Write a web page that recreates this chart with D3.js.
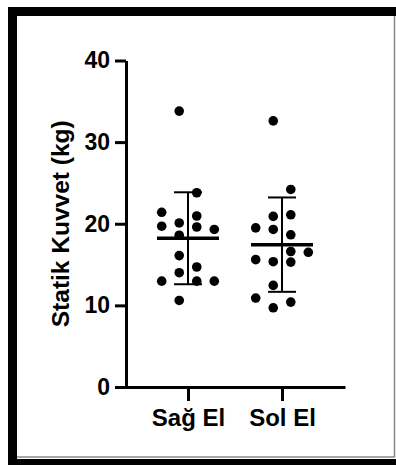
<!DOCTYPE html>
<html>
<head>
<meta charset="utf-8">
<script src="https://cdn.jsdelivr.net/npm/d3@7"></script>
<style>
  body { margin: 0; background: #fff; }
  text { font-family: Arial, "Liberation Sans", sans-serif; font-weight: bold; }
</style>
</head>
<body>
<div id="chart"></div>
<script>
const w = 396,
h = 465;

// data
const groups = ["Sağ El", "Sol El"];
const sagValues = [10.6, 12.97, 12.97, 12.97, 14.0, 14.7, 16.1, 18.6, 19.3, 19.6, 19.7, 20.1, 20.95, 21.4, 23.8, 33.8];
const sagCols   = [-0.5, -1.5, 0.5, 1.5, -0.5, 0.5, -0.5, -0.5, 1.5, 0.5, -1.5, -0.5, 0.5, -1.5, 0.5, -0.5];
const solValues = [9.7, 10.4, 10.9, 12.45, 15.3, 15.35, 15.6, 16.5, 16.6, 18.65, 19.3, 19.5, 20.9, 21.1, 24.2, 32.6];
const solCols   = [-0.5, 0.5, -1.5, -0.5, 0.5, -0.5, -1.5, 1.5, 0.5, 0.5, -0.5, -1.5, -0.5, 0.5, 0.5, -0.5];
const yTicks = [0, 10, 20, 30, 40];
const yLabel = "Statik Kuvvet (kg)";

const series = [
    {name: groups[0], values: sagValues, cols: sagCols},
    {name: groups[1], values: solValues, cols: solCols}
];

const svg = d3.select("#chart")
    .append("svg")
    .attr("width", w)
    .attr("height", h);

// screenshot frame
svg.append("rect").attr("x", 8).attr("y", 7).attr("width", w - 8).attr("height", 9).attr("fill", "#000");
svg.append("rect").attr("x", 8).attr("y", 7).attr("width", 9).attr("height", h - 7).attr("fill", "#000");
svg.append("rect").attr("x", 8).attr("y", 459).attr("width", w - 8).attr("height", 6).attr("fill", "#000");
svg.append("line").attr("x1", 17).attr("x2", 394.5).attr("y1", 457).attr("y2", 457)
    .attr("stroke", "#888").attr("stroke-width", 1.5);
svg.append("line").attr("x1", 394.5).attr("x2", 394.5).attr("y1", 16).attr("y2", 457)
    .attr("stroke", "#888").attr("stroke-width", 1.5);

const x = d3.scalePoint(groups, [125, 345]).padding(0.67);
const y = d3.scaleLinear([0, 40], [387, 60.5]);
const jitter = d3.scaleLinear([-1.5, 1.5], [-26.3, 26.3]);

// y axis
const gy = svg.append("g")
    .attr("transform", "translate(126,0)")
    .call(d3.axisLeft(y).tickValues(yTicks).tickSize(11).tickPadding(5).tickSizeOuter(0));
gy.select(".domain").attr("stroke-width", 3);
gy.selectAll(".tick line").attr("stroke-width", 3);
gy.selectAll(".tick text").style("font-size", "23px").attr("fill", "#000");

// x axis
const gx = svg.append("g")
    .attr("transform", "translate(0,387)")
    .call(d3.axisBottom(x).tickSize(14).tickPadding(8).tickSizeOuter(0));
gx.select(".domain").attr("stroke-width", 3);
gx.selectAll(".tick line").attr("stroke-width", 3);
gx.selectAll(".tick text").style("font-size", "24px").attr("fill", "#000");

svg.append("text")
    .attr("transform", `translate(69,${(y(0) + y(40)) / 2}) rotate(-90)`)
    .attr("text-anchor", "middle")
    .style("font-size", "24.5px")
    .text(yLabel);

// mean and SD bars
for (const s of series) {
    const m = d3.mean(s.values),
        sd = d3.deviation(s.values),
        cx = x(s.name);
    const g = svg.append("g").attr("stroke", "#000");
    g.append("line").attr("x1", cx).attr("x2", cx).attr("y1", y(m + sd)).attr("y2", y(m - sd)).attr("stroke-width", 2);
    g.append("line").attr("x1", cx - 14).attr("x2", cx + 14).attr("y1", y(m + sd)).attr("y2", y(m + sd)).attr("stroke-width", 2);
    g.append("line").attr("x1", cx - 14).attr("x2", cx + 14).attr("y1", y(m - sd)).attr("y2", y(m - sd)).attr("stroke-width", 2);
    g.append("line").attr("x1", cx - 31).attr("x2", cx + 31).attr("y1", y(m)).attr("y2", y(m)).attr("stroke-width", 3.5);
}

// dots
svg.append("g")
    .selectAll("g")
    .data(series)
    .join("g")
    .selectAll("circle")
    .data(s => s.values.map((v, i) => ({name: s.name, v: v, c: s.cols[i]})))
    .join("circle")
    .attr("cx", d => x(d.name) + jitter(d.c))
    .attr("cy", d => y(d.v))
    .attr("r", 4.8)
    .attr("fill", "#000");
</script>
</body>
</html>
